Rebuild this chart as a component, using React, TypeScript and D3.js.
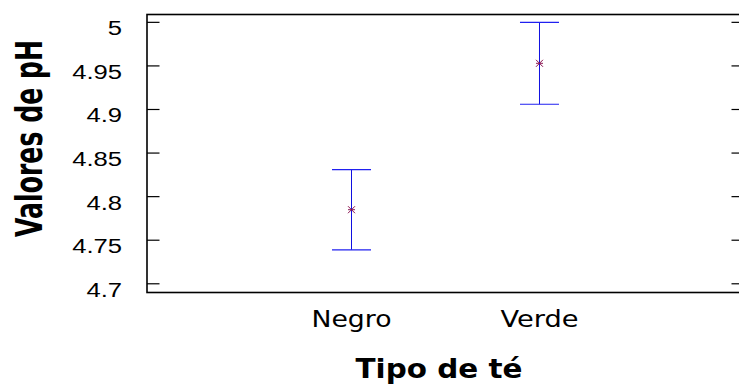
import React from "react";
import * as d3 from "d3";

// Tea types and their pH summary (mean and error half-width)
const categories = ["Negro", "Verde"];
const means = [4.785, 4.953];
const errors = [0.046, 0.047];
const yTicks = [4.7, 4.75, 4.8, 4.85, 4.9, 4.95, 5];
const yTickLabels = ["4.7", "4.75", "4.8", "4.85", "4.9", "4.95", "5"];

const W = 739;
const H = 388;
const frame = { left: 147, right: 744, top: 14.5, bottom: 292.5 };

const titleFont = "'Comic Sans MS', 'DejaVu Sans', sans-serif";
const tickFont = "'Liberation Sans', Arial, sans-serif";

export default function App() {
  const x = d3
    .scalePoint<string>()
    .domain(categories)
    .range([frame.left, frame.right])
    .padding(1.088);
  const y = d3
    .scaleLinear()
    .domain([4.69, 5.009])
    .range([frame.bottom, frame.top]);

  const capHalf = 19.5;
  const tickLen = 12.5;

  return (
    <svg
      width={W}
      height={H}
      style={{ position: "absolute", left: 0, top: 0, background: "#fff" }}
    >
      <rect x={0} y={0} width={W} height={H} fill="#fff" />

      {/* plot frame */}
      <rect
        x={frame.left}
        y={frame.top}
        width={frame.right - frame.left}
        height={frame.bottom - frame.top}
        fill="none"
        stroke="#000"
        strokeWidth={1.6}
      />

      {/* y ticks on both sides, pointing inward */}
      {yTicks.map((t, i) => (
        <g key={i}>
          <line
            x1={frame.left}
            x2={frame.left + tickLen}
            y1={y(t)}
            y2={y(t)}
            stroke="#000"
            strokeWidth={1.2}
          />
          <line
            x1={frame.right}
            x2={frame.right - tickLen}
            y1={y(t)}
            y2={y(t)}
            stroke="#000"
            strokeWidth={1.2}
          />
          <text
            transform={`translate(122, ${y(t) + 13}) scale(1.22, 1)`}
            textAnchor="end"
            fontFamily={tickFont}
            fontSize={21}
            fill="#000"
          >
            {yTickLabels[i]}
          </text>
        </g>
      ))}

      {/* error bars with mean markers */}
      {categories.map((c, i) => {
        const cx = x(c) as number;
        const lo = y(means[i] - errors[i]);
        const hi = y(means[i] + errors[i]);
        const my = y(means[i]);
        const s = 3.5;
        return (
          <g key={c}>
            <line x1={cx} x2={cx} y1={lo} y2={hi} stroke="#1010e0" strokeWidth={1} />
            <line x1={cx - capHalf} x2={cx + capHalf} y1={hi} y2={hi} stroke="#2020f0" strokeWidth={1.2} />
            <line x1={cx - capHalf} x2={cx + capHalf} y1={lo} y2={lo} stroke="#2020f0" strokeWidth={1.2} />
            <g stroke="#8a1450" strokeWidth={1}>
              <line x1={cx - s} x2={cx + s} y1={my - s} y2={my + s} />
              <line x1={cx - s} x2={cx + s} y1={my + s} y2={my - s} />
              <line x1={cx - s} x2={cx + s} y1={my} y2={my} />
            </g>
            <text
              x={cx}
              y={326.5}
              textAnchor="middle"
              fontFamily={titleFont}
              fontSize={23}
              textLength={i === 0 ? 80 : 78}
              lengthAdjust="spacingAndGlyphs"
              fill="#000"
            >
              {c}
            </text>
          </g>
        );
      })}

      {/* axis titles */}
      <text
        x={439}
        y={378}
        textAnchor="middle"
        fontFamily={titleFont}
        fontWeight="bold"
        fontSize={27}
        textLength={167}
        lengthAdjust="spacingAndGlyphs"
        fill="#000"
      >
        Tipo de té
      </text>
      <text
        transform="translate(42, 138.5) rotate(-90) scale(1, 1.35)"
        textAnchor="middle"
        fontFamily={titleFont}
        fontWeight="bold"
        fontSize={27}
        textLength={197}
        lengthAdjust="spacingAndGlyphs"
        fill="#000"
      >
        Valores de pH
      </text>
    </svg>
  );
}
